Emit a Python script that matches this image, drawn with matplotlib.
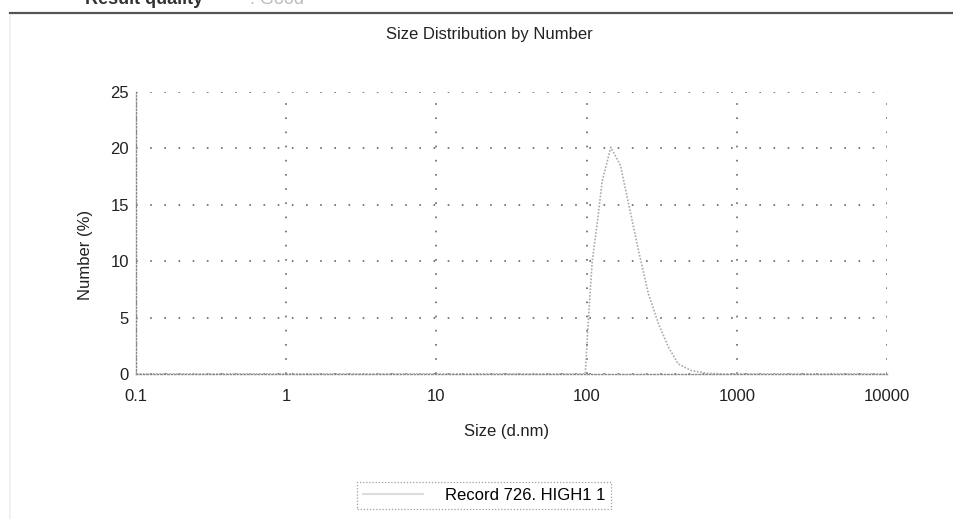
import numpy as np
import matplotlib
matplotlib.use("Agg")
import matplotlib.pyplot as plt
from matplotlib.lines import Line2D

plt.rcParams['font.family'] = ['Liberation Sans', 'DejaVu Sans']

# size (d.nm) and number (%)
size_nm = [0.1, 1, 10, 80, 98, 100, 104, 109, 118, 127, 145, 168, 191, 222,
           258, 300, 350, 407, 498, 640, 820, 1000, 10000]
number_pct = [0, 0, 0, 0, 0, 2.1, 5.9, 10.0, 13.5, 17.1, 20.1, 18.5, 15.0, 10.9,
              7.1, 4.5, 2.4, 0.9, 0.3, 0.06, 0, 0, 0]
x_ticks = [0.1, 1, 10, 100, 1000, 10000]
x_labels = ['0.1', '1', '10', '100', '1000', '10000']
y_ticks = [0, 5, 10, 15, 20, 25]
legend_label = 'Record 726. HIGH1 1'

W, H = 954, 519
fig = plt.figure(figsize=(W / 100, H / 100), dpi=100)
fig.patch.set_facecolor('white')

# page header bits above the chart (cut off at the top like the scan)
fig.add_artist(Line2D([10 / W, 1.0], [1 - 13 / H, 1 - 13 / H],
                      transform=fig.transFigure, color='#555555', lw=1.6))
fig.add_artist(Line2D([10 / W, 10 / W], [1 - 16 / H, 0.0],
                      transform=fig.transFigure, color='#eeeeee', lw=1.2))
fig.text(85 / W, 1 - 4 / H, 'Result quality', fontsize=13, fontweight='bold',
         color='#333333', va='baseline', ha='left')
fig.text(250 / W, 1 - 4 / H, ': Good', fontsize=13, color='#bbbbbb',
         va='baseline', ha='left')

ax = fig.add_axes([136 / W, 1 - 374 / H, 751 / W, 282 / H])
ax.plot(size_nm, number_pct, color='#aaaaaa', lw=1.2, linestyle=(0, (1, 1)),
        label=legend_label, zorder=3)

ax.set_xscale('log')
ax.set_xlim(0.1, 10000)
ax.set_ylim(0, 25)
ax.set_xticks(x_ticks)
ax.set_xticklabels(x_labels)
ax.set_yticks(y_ticks)
ax.xaxis.set_minor_locator(matplotlib.ticker.NullLocator())
ax.tick_params(length=0, labelsize=12, colors='#222222')
ax.tick_params(axis='x', pad=11)
ax.tick_params(axis='y', pad=5)

ax.grid(True, color='#666666', lw=1.2, linestyle=(0, (1, 7.5)))
for side in ['top', 'right']:
    ax.spines[side].set_visible(False)
for side in ['left', 'bottom']:
    ax.spines[side].set_color('#888888')
    ax.spines[side].set_linestyle((0, (1, 1.5)))
    ax.spines[side].set_linewidth(1.0)

ax.set_title('Size Distribution by Number', fontsize=12, color='#222222',
             pad=38, x=0.471)
ax.set_xlabel('Size (d.nm)', fontsize=12, color='#222222')
ax.set_ylabel('Number (%)', fontsize=12, color='#222222')
ax.xaxis.set_label_coords(0.494, -0.177)
ax.yaxis.set_label_coords(-0.057, 0.422)

leg = fig.legend(loc='center', bbox_to_anchor=(484 / W, 1 - 495.5 / H),
                 fontsize=12, frameon=True, fancybox=False, handlelength=3.6,
                 handletextpad=1.3, borderpad=0.35)
frame = leg.get_frame()
frame.set_edgecolor('#888888')
frame.set_linestyle((0, (1, 1.5)))
frame.set_linewidth(0.9)
for line in leg.get_lines():
    line.set_linestyle('-')
    line.set_color('#dddddd')
    line.set_linewidth(1.5)

fig.savefig('out.png', dpi=100, facecolor='white')
